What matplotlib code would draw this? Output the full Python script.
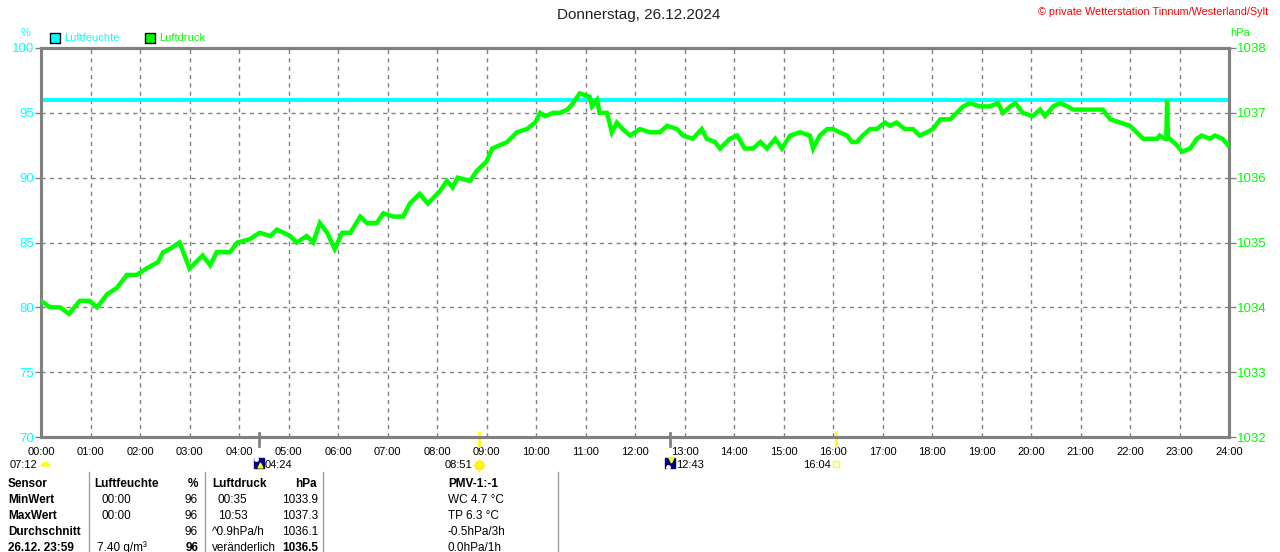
import matplotlib
matplotlib.use('Agg')
import matplotlib.pyplot as plt
import matplotlib.transforms as mtransforms
from matplotlib.lines import Line2D
from matplotlib.patches import Rectangle

W, H = 1280, 552
plt.rcParams['font.family'] = ['Liberation Sans', 'DejaVu Sans']

# ---------------- data ----------------
title = "Donnerstag, 26.12.2024"
copyright_text = "© private Wetterstation Tinnum/Westerland/Sylt"

pressure_times = [
    "00:00", "00:11", "00:23", "00:34", "00:47", "00:59", "01:08", "01:20", "01:32", "01:44",
    "01:56", "02:08", "02:22", "02:28", "02:36", "02:48", "03:00", "03:16", "03:25", "03:33",
    "03:49", "03:58", "04:13", "04:25", "04:38", "04:46", "05:02", "05:10", "05:22", "05:30",
    "05:38", "05:47", "05:56", "06:05", "06:15", "06:27", "06:35", "06:47", "06:55", "07:07",
    "07:19", "07:27", "07:39", "07:49", "08:04", "08:12", "08:19", "08:25", "08:40", "08:48",
    "09:00", "09:07", "09:16", "09:25", "09:37", "09:49", "09:59", "10:05", "10:11", "10:21",
    "10:29", "10:38", "10:45", "10:53", "11:05", "11:08", "11:14", "11:17", "11:26", "11:32",
    "11:38", "11:45", "11:54", "12:06", "12:18", "12:30", "12:39", "12:51", "12:58", "13:10",
    "13:21", "13:27", "13:37", "13:43", "13:55", "14:04", "14:13", "14:23", "14:32", "14:40",
    "14:50", "14:58", "15:08", "15:20", "15:32", "15:36", "15:44", "15:53", "16:00", "16:08",
    "16:17", "16:23", "16:29", "16:36", "16:45", "16:53", "17:03", "17:09", "17:17", "17:27",
    "17:37", "17:45", "17:54", "18:01", "18:10", "18:22", "18:30", "18:38", "18:46", "18:58",
    "19:10", "19:20", "19:26", "19:35", "19:41", "19:50", "20:02", "20:11", "20:17", "20:27",
    "20:35", "20:44", "20:51", "21:03", "21:15", "21:27", "21:36", "21:48", "22:00", "22:08",
    "22:16", "22:33", "22:36", "22:42", "22:44", "22:45", "22:46", "22:48", "22:57", "23:03",
    "23:13", "23:21", "23:27", "23:37", "23:43", "23:52", "23:59",
]
pressure_values = [
    1034.1, 1034.0, 1034.0, 1033.9, 1034.1, 1034.1, 1034.0, 1034.2, 1034.3, 1034.5,
    1034.5, 1034.6, 1034.7, 1034.85, 1034.9, 1035.0, 1034.6, 1034.8, 1034.65, 1034.85,
    1034.85, 1035.0, 1035.05, 1035.15, 1035.1, 1035.2, 1035.1, 1035.0, 1035.1, 1035.0,
    1035.3, 1035.15, 1034.9, 1035.15, 1035.15, 1035.4, 1035.3, 1035.3, 1035.45, 1035.4,
    1035.4, 1035.6, 1035.75, 1035.6, 1035.8, 1035.95, 1035.85, 1036.0, 1035.95, 1036.1,
    1036.25, 1036.45, 1036.5, 1036.55, 1036.7, 1036.75, 1036.85, 1037.0, 1036.95, 1037.0,
    1037.0, 1037.05, 1037.15, 1037.3, 1037.25, 1037.1, 1037.2, 1037.0, 1037.0, 1036.7,
    1036.85, 1036.75, 1036.65, 1036.75, 1036.7, 1036.7, 1036.8, 1036.75, 1036.65, 1036.6,
    1036.75, 1036.6, 1036.55, 1036.45, 1036.6, 1036.65, 1036.45, 1036.45, 1036.55, 1036.45,
    1036.6, 1036.45, 1036.65, 1036.7, 1036.65, 1036.45, 1036.65, 1036.75, 1036.75, 1036.7,
    1036.65, 1036.55, 1036.55, 1036.65, 1036.75, 1036.75, 1036.85, 1036.8, 1036.85, 1036.75,
    1036.75, 1036.65, 1036.7, 1036.75, 1036.9, 1036.9, 1037.0, 1037.1, 1037.15, 1037.1,
    1037.1, 1037.15, 1037.0, 1037.1, 1037.15, 1037.0, 1036.95, 1037.05, 1036.95, 1037.1,
    1037.15, 1037.1, 1037.05, 1037.05, 1037.05, 1037.05, 1036.9, 1036.85, 1036.8, 1036.7,
    1036.6, 1036.6, 1036.65, 1036.6, 1036.6, 1037.2, 1036.6, 1036.6, 1036.5, 1036.4,
    1036.45, 1036.6, 1036.65, 1036.6, 1036.65, 1036.6, 1036.5,
]
humidity_times = ["00:00", "23:59"]
humidity_values = [96, 96]

hour_labels = ["00:00", "01:00", "02:00", "03:00", "04:00", "05:00", "06:00", "07:00",
               "08:00", "09:00", "10:00", "11:00", "12:00", "13:00", "14:00", "15:00",
               "16:00", "17:00", "18:00", "19:00", "20:00", "21:00", "22:00", "23:00", "24:00"]
humidity_ticks = [70, 75, 80, 85, 90, 95, 100]
pressure_ticks = [1032, 1033, 1034, 1035, 1036, 1037, 1038]

day_length = "07:12"
event_times = ["04:24", "08:51", "12:43", "16:04"]
event_kinds = ["moonrise", "sunrise", "moonset", "sunset"]

table_header = ["Sensor", "Luftfeuchte", "%", "Luftdruck", "hPa", "PMV-1:-1"]
table_rows = [
    ["MinWert", "00:00", "96", "00:35", "1033.9", "WC 4.7 °C"],
    ["MaxWert", "00:00", "96", "10:53", "1037.3", "TP 6.3 °C"],
    ["Durchschnitt", "", "96", "^0.9hPa/h", "1036.1", "-0.5hPa/3h"],
    ["26.12. 23:59", "7.40 g/m³", "96", "veränderlich", "1036.5", "0.0hPa/1h"],
]

# ---------------- helpers ----------------
def hrs(t):
    h, m = t.split(":")
    return int(h) + int(m) / 60.0

def fx(x):
    return x / W

def fy(y):
    return 1 - y / H

CYAN = '#00ffff'
GREEN = '#00ff00'
GRAY = '#808080'
YELLOW = '#ffff00'

fig = plt.figure(figsize=(12.8, 5.52), dpi=100)
fig.patch.set_facecolor('white')
ax = fig.add_axes([fx(41), fy(437), 1188 / W, 389 / H])
ax2 = ax.twinx()

ax.set_xlim(0, 24)
ax.set_ylim(70, 100)
ax2.set_ylim(1032, 1038)

# grid
for h in range(1, 24):
    ax.axvline(h, color=GRAY, lw=1.0, ls=(0, (3, 3)), zorder=1)
for v in humidity_ticks[1:-1]:
    ax.axhline(v, color=GRAY, lw=1.0, ls=(0, (3, 3)), zorder=1)

# series
ax.plot([hrs(t) for t in humidity_times], humidity_values, color=CYAN, lw=2.8,
        solid_capstyle='butt', zorder=3)
ax2.plot([hrs(t) for t in pressure_times], pressure_values, color=GREEN, lw=3.2,
         solid_joinstyle='miter', zorder=4)

for a in (ax, ax2):
    for s in a.spines.values():
        s.set_color(GRAY)
        s.set_linewidth(2.2)

ax.set_xticks(range(25))
ax.set_xticklabels(hour_labels, fontsize=8, color='black')
ax.tick_params(axis='x', length=0, pad=7.5)
ax.set_yticks(humidity_ticks)
ax.set_yticklabels([str(v) for v in humidity_ticks], fontsize=9.5, color=CYAN)
ax.tick_params(axis='y', length=4, width=1, color=GRAY, pad=1)
ax2.set_yticks(pressure_ticks)
ax2.set_yticklabels([str(v) for v in pressure_ticks], fontsize=9.5, color=GREEN)
ax2.tick_params(axis='y', length=5, width=1, color=GRAY, pad=1)

# titles and labels
fig.text(fx(639), fy(15), title, ha='center', va='center', fontsize=11, color='#202020')
fig.text(fx(1268), fy(12), copyright_text, ha='right', va='center', fontsize=7.8, color='#ff0000')
fig.text(fx(26), fy(33), "%", ha='center', va='center', fontsize=8, color=CYAN)
fig.text(fx(1240), fy(33), "hPa", ha='center', va='center', fontsize=8, color=GREEN)

# legend
for x0, col, lab in [(50, CYAN, "Luftfeuchte"), (145, GREEN, "Luftdruck")]:
    fig.add_artist(Rectangle((fx(x0), fy(43)), 10 / W, 10 / H, facecolor=col,
                             edgecolor='black', lw=1.0, transform=fig.transFigure))
    fig.text(fx(x0 + 14), fy(38), lab, ha='left', va='center', fontsize=8, color=col)

# sun / moon events
EV_Y = 464.5
bt = mtransforms.blended_transform_factory(ax.transData, fig.transFigure)
for t, kind in zip(event_times, event_kinds):
    x = hrs(t)
    col = YELLOW if kind.startswith('sun') else GRAY
    ax.plot([x, x], [fy(433), fy(446)], color=col, lw=2.0, transform=bt, clip_on=False, zorder=6)
    if kind.startswith('moon'):
        ax.plot([x], [fy(463)], marker='s', ms=7.5, color='#000080', mec='#000080',
                transform=bt, clip_on=False)
        ax.plot([x + 0.02], [fy(465) if kind == 'moonrise' else fy(460)],
                marker='^' if kind == 'moonrise' else 'v', ms=3.5, color=YELLOW, mec=YELLOW,
                transform=bt, clip_on=False)
        ax.plot([x - 0.06], [fy(459) if kind == 'moonrise' else fy(467)], marker='o', ms=2.5,
                color='white', mec='white', transform=bt, clip_on=False)
        ax.text(x + 0.12, fy(EV_Y), t, transform=bt, ha='left', va='center', fontsize=8,
                color='black')
    elif kind == 'sunrise':
        ax.plot([x], [fy(465)], marker='o', ms=6, color=YELLOW, mec='#ffe000',
                transform=bt, clip_on=False)
        ax.plot([x], [fy(465)], marker='+', ms=10, mew=1, color=YELLOW,
                transform=bt, clip_on=False)
        ax.text(x - 0.14, fy(EV_Y), t, transform=bt, ha='right', va='center', fontsize=8,
                color='black')
    else:
        ax.plot([x], [fy(464)], marker='s', ms=4.5, mfc='white', mec=YELLOW, mew=1,
                transform=bt, clip_on=False)
        ax.text(x - 0.12, fy(EV_Y), t, transform=bt, ha='right', va='center', fontsize=8,
                color='black')

ax.plot([0.08], [fy(466)], marker='o', ms=7, fillstyle='top', color=YELLOW, mec=YELLOW,
        markerfacecoloralt='none', mew=0, transform=bt, clip_on=False)
ax.text(-0.07, fy(EV_Y), day_length, transform=bt, ha='right', va='center', fontsize=8,
        color='black')

# table
rows_y = [484, 500, 516, 532, 548]
for xs in (89, 205, 323, 558):
    fig.add_artist(Line2D([fx(xs), fx(xs)], [fy(472), fy(552)], color='#a0a0a0', lw=1.0,
                          transform=fig.transFigure))

def cell(x, y, s, ha='left', bold=False):
    fig.text(fx(x), fy(y), s, ha=ha, va='center', fontsize=8.5,
             fontweight='bold' if bold else 'normal', color='black')

hdr = table_header
cell(8, rows_y[0], hdr[0], bold=True)
cell(94, rows_y[0], hdr[1], bold=True)
cell(198, rows_y[0], hdr[2], ha='right', bold=True)
cell(212, rows_y[0], hdr[3], bold=True)
cell(317, rows_y[0], hdr[4], ha='right', bold=True)
cell(448, rows_y[0], hdr[5], bold=True)
for i, r in enumerate(table_rows):
    y = rows_y[i + 1]
    last = (i == len(table_rows) - 1)
    cell(8, y, r[0], bold=True)
    cell(97 if last else 101, y, r[1])
    cell(198, y, r[2], ha='right', bold=last)
    cell(212 if (last or i == 2) else 218, y, r[3])
    cell(318, y, r[4], ha='right', bold=last)
    cell(448, y, r[5])

fig.savefig('out.png', dpi=100, facecolor='white')
